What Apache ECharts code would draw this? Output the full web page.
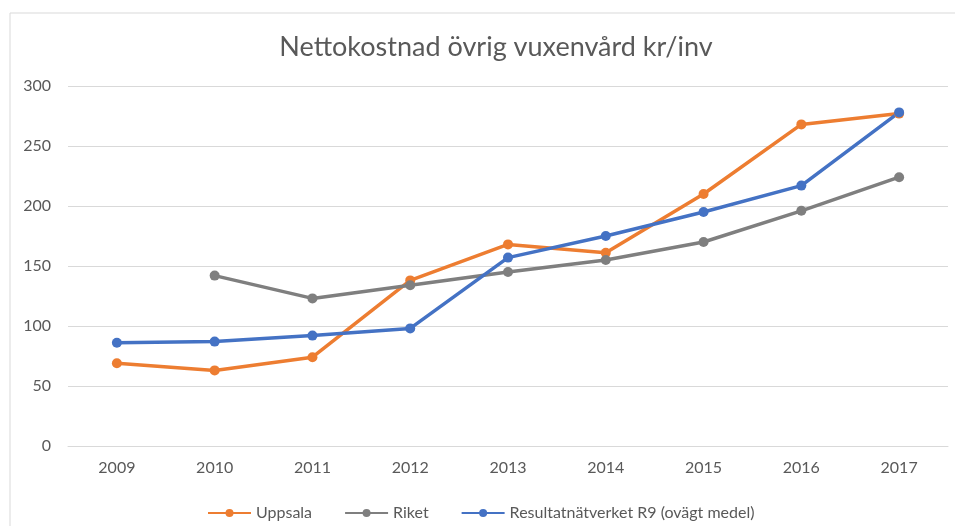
<!DOCTYPE html>
<html>
<head>
<meta charset="utf-8">
<script src="https://cdn.jsdelivr.net/npm/echarts@6/dist/echarts.min.js"></script>
<style>
  html, body { margin: 0; padding: 0; background: #fff; }
  #chart { width: 955px; height: 526px; }
</style>
</head>
<body>
<div id="chart"></div>
<script>
const years = ['2009', '2010', '2011', '2012', '2013', '2014', '2015', '2016', '2017']
const uppsala = [69, 63, 74, 138, 168, 161, 210, 268, 277]
const riket = [null, 142, 123, 134, 145, 155, 170, 196, 224]
const r9 = [86, 87, 92, 98, 157, 175, 195, 217, 278]

const font = 'Lato, "Open Sans", sans-serif'
const textColor = '#595959'
const gridColor = '#d9d9d9'

const chart = echarts.init(document.getElementById('chart'), null, { renderer: 'canvas' })

const lineSeries = (name, data, color) => ({
  name: name,
  type: 'line',
  data: data,
  symbol: 'circle',
  symbolSize: 10,
  connectNulls: false,
  lineStyle: { color: color, width: 3.5 },
  itemStyle: { color: color },
  animation: false
})

chart.setOption({
  backgroundColor: '#fff',
  graphic: [
    {
      type: 'rect',
      shape: { x: 10, y: 13, width: 970, height: 540 },
      style: { fill: 'none', stroke: gridColor, lineWidth: 1 },
      z: -1
    }
  ],
  title: {
    text: 'Nettokostnad övrig vuxenvård kr/inv',
    left: 491,
    top: 29,
    textAlign: 'center',
    textStyle: { fontFamily: font, fontSize: 27, fontWeight: 'normal', color: textColor }
  },
  legend: {
    left: 202,
    top: 500,
    itemWidth: 43,
    itemHeight: 10,
    itemGap: 32,
    textStyle: { fontFamily: font, fontSize: 16, color: textColor },
    data: ['Uppsala', 'Riket', 'Resultatnätverket R9 (ovägt medel)']
  },
  grid: { left: 68, right: 7, top: 86, bottom: 80, containLabel: false },
  xAxis: {
    type: 'category',
    data: years,
    boundaryGap: true,
    axisLine: { lineStyle: { color: gridColor, width: 1 } },
    axisTick: { show: false },
    axisLabel: { fontFamily: font, fontSize: 16, color: textColor, margin: 14 }
  },
  yAxis: {
    type: 'value',
    min: 0,
    max: 300,
    interval: 50,
    axisLine: { show: false },
    axisTick: { show: false },
    splitLine: { lineStyle: { color: gridColor, width: 1 } },
    axisLabel: { fontFamily: font, fontSize: 16, color: textColor, margin: 17 }
  },
  series: [
    lineSeries('Uppsala', uppsala, '#ed7d31'),
    lineSeries('Riket', riket, '#7f7f7f'),
    lineSeries('Resultatnätverket R9 (ovägt medel)', r9, '#4472c4')
  ]
})
</script>
</body>
</html>
